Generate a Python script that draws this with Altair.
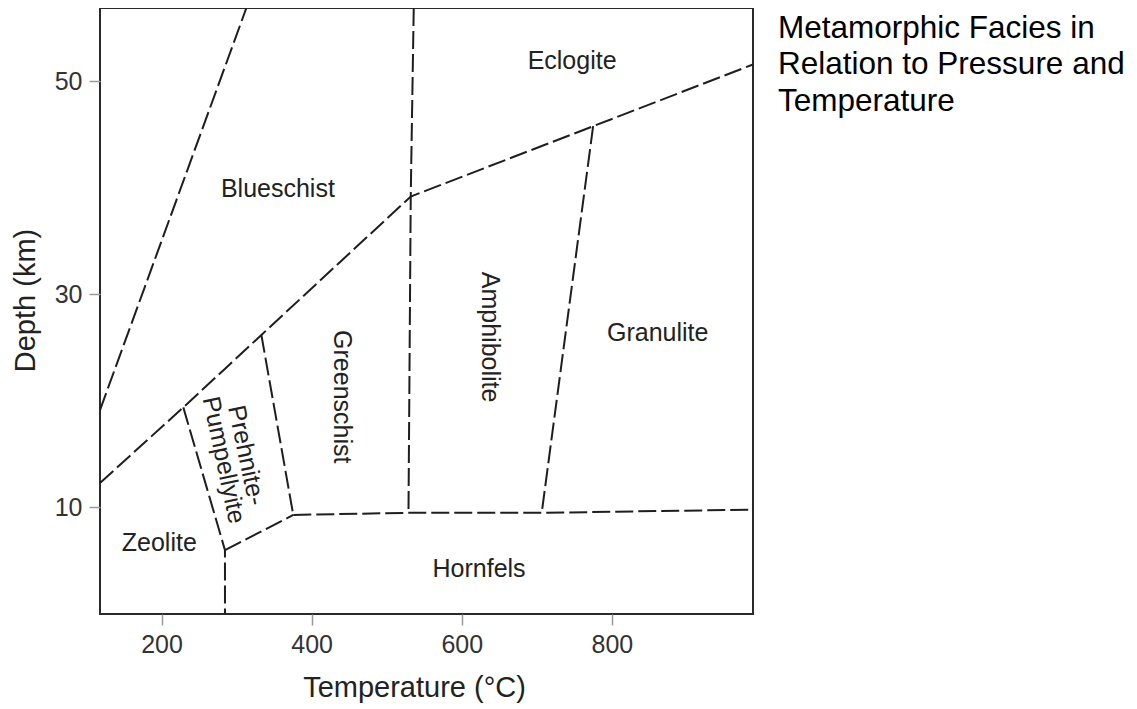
import altair as alt
import pandas as pd

# ---- phase-boundary polylines (temperature in °C, depth in km) ----
boundary = ["bs_left", "bs_left",
            "main", "main", "main", "main", "main", "main",
            "vertical", "vertical", "vertical",
            "pp_left", "pp_left", "pp_left",
            "pp_right", "pp_right",
            "pp_bottom", "pp_bottom",
            "hornfels_top", "hornfels_top", "hornfels_top", "hornfels_top",
            "granulite_left", "granulite_left"]
temp = [118, 313,
        118, 229, 333, 532, 775, 988,
        536, 532, 529,
        229, 284.5, 284.5,
        333, 375.5,
        284.5, 375.5,
        375.5, 529, 706.5, 988,
        775, 706.5]
depth = [19.15, 56.9,
         12.3, 19.4, 26.2, 39.2, 45.8, 51.6,
         56.9, 39.2, 9.5,
         19.4, 6.0, 0.0,
         26.2, 9.3,
         6.0, 9.3,
         9.3, 9.5, 9.5, 9.8,
         45.8, 9.5]

# ---- facies labels ----
facies = ["Blueschist", "Eclogite", "Greenschist", "Amphibolite", "Granulite",
          "Prehnite-\nPumpellyite", "Zeolite", "Hornfels"]
label_t = [355, 747, 440, 638, 861, 313, 197, 623]
label_d = [39.9, 51.9, 20.4, 26.0, 26.4, 14.9, 6.7, 4.2]
label_angle = [0, 0, 90, 90, 0, 78, 0, 0]

x_ticks = [200, 400, 600, 800]
y_ticks = [10, 30, 50]
title_text = "Metamorphic Facies in\nRelation to Pressure and\nTemperature"

df_lines = pd.DataFrame({"boundary": boundary, "temp": temp, "depth": depth})
df_lines["seq"] = df_lines.groupby("boundary").cumcount()
df_labels = pd.DataFrame({"facies": facies, "temp": label_t, "depth": label_d,
                          "angle": label_angle})

FONT = "Liberation Sans"
W, H = 653, 606
xscale = alt.Scale(domain=[118, 988], nice=False, zero=False)
yscale = alt.Scale(domain=[0, 56.9], nice=False, zero=False)

lines = alt.Chart(df_lines).mark_line(
    strokeDash=[18, 5], strokeWidth=2, color="#1e1e1e"
).encode(
    x=alt.X("temp:Q", scale=xscale,
            axis=alt.Axis(values=x_ticks, title="Temperature (°C)", titleX=314)),
    y=alt.Y("depth:Q", scale=yscale,
            axis=alt.Axis(values=y_ticks, title="Depth (km)", titleY=292)),
    detail="boundary:N",
    order="seq:Q",
)

labels = alt.Chart(df_labels).mark_text(
    font=FONT, fontSize=25, color="#222222", lineBreak="\n", lineHeight=23,
    align="center", baseline="middle"
).encode(
    x=alt.X("temp:Q", scale=xscale),
    y=alt.Y("depth:Q", scale=yscale),
    text="facies:N",
    angle=alt.Angle("angle:Q", scale=None),
)

title = alt.Chart(pd.DataFrame({"t": [title_text]})).mark_text(
    font=FONT, fontSize=31.5, color="#000000", lineBreak="\n", lineHeight=36.5,
    align="left", baseline="alphabetic"
).encode(
    x=alt.value(678), y=alt.value(29.5), text="t:N"
)

chart = alt.layer(lines, labels, title).properties(
    width=W, height=H,
    autosize=alt.AutoSizeParams(type="none"),
    padding={"left": 92, "top": 0, "right": 376, "bottom": 92},
).configure_view(
    stroke="#2a2a2a", strokeWidth=2
).configure_axis(
    grid=False, domain=False,
    labelFont=FONT, labelFontSize=25, labelColor="#333333", labelPadding=7,
    titleFont=FONT, titleFontSize=29, titleColor="#222222", titleFontWeight="normal",
    tickSize=11, tickColor="#999999", tickWidth=1.5,
).configure_axisX(
    titlePadding=16
).configure_axisY(
    titlePadding=14
)

chart.save("out.html", embed_options={"renderer": "svg", "actions": False})
